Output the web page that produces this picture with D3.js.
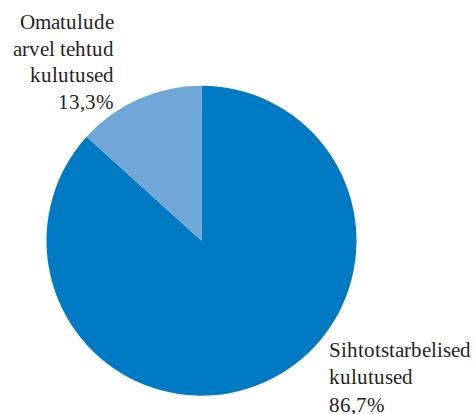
<!DOCTYPE html>
<html><head><meta charset="utf-8"><script src="https://cdn.jsdelivr.net/npm/d3@7"></script>
<style>
@font-face { font-family: "LabelSerif"; src: local("Liberation Serif"), local("LiberationSerif"), local("Liberation Serif Regular"), local("LiberationSerif-Regular"), local("Tinos"), local("Times New Roman"); }
body { margin: 0; }
.lbl { font-family: "LabelSerif", "Liberation Serif", Tinos, "Times New Roman", serif; font-size: 21px; fill: #231f20; }
</style>
</head>
<body>
<svg id="c" width="475" height="414"></svg>
<script>
const categories = ["Sihtotstarbelised kulutused", "Omatulude arvel tehtud kulutused"];
const values = [86.7, 13.3];
const valueLabels = ["86,7%", "13,3%"];
const colors = ["#007ac2", "#70a6d8"];
const labelLines = [
  ["Sihtotstarbelised", "kulutused", "86,7%"],
  ["Omatulude", "arvel tehtud", "kulutused", "13,3%"]
];

const svg = d3.select("#c");
const cx = 201.5, cy = 240.7, r = 155;

const pie = d3.pie().sort(null).value(d => d);
const arc = d3.arc().innerRadius(0).outerRadius(r);
const arcs = pie(values);

const g = svg.append("g").attr("transform", `translate(${cx},${cy})`);
g.selectAll("path")
  .data(arcs)
  .enter().append("path")
  .attr("d", arc)
  .attr("fill", (d, i) => colors[i]);

function addLabel(lines, x, y, anchor, step) {
  lines.forEach((t, i) => {
    svg.append("text")
      .attr("class", "lbl")
      .attr("x", x).attr("y", y + i * step)
      .attr("text-anchor", anchor)
      .text(t);
  });
}

addLabel(labelLines[0], 329, 357, "start", 27.3);
addLabel(labelLines[1], 114, 29, "end", 26.7);
</script></body></html>
